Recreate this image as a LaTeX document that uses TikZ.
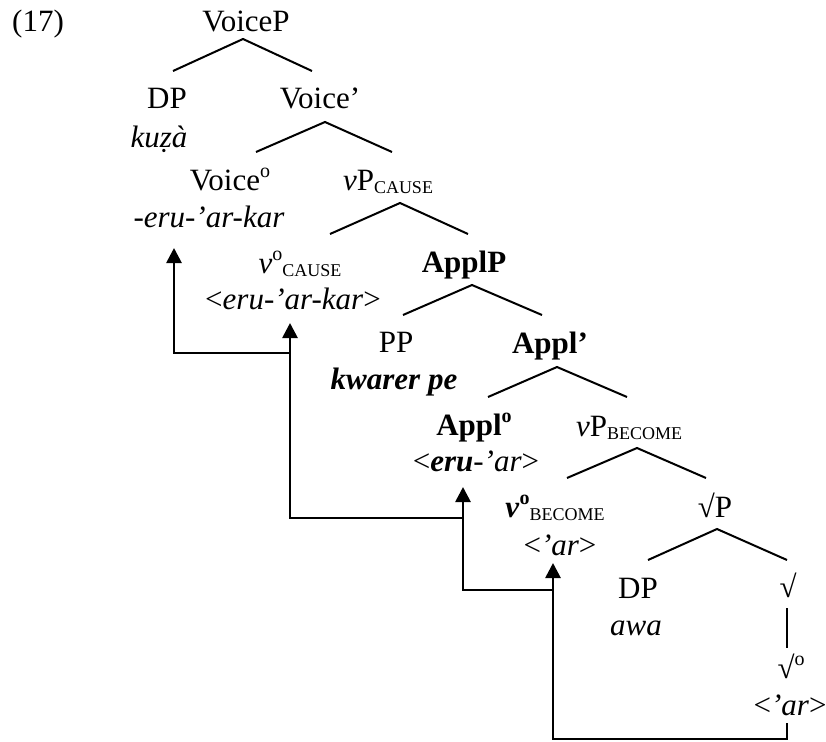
\documentclass[tikz,border=0pt]{standalone}
\usepackage{fontspec}
\setmainfont{Liberation Serif}
\usetikzlibrary{arrows.meta}

\newcommand\supo[1]{\raisebox{13pt}{\fontsize{20}{20}\selectfont #1}}
\newcommand\subcap[1]{\raisebox{-3pt}{\fontsize{18}{18}\selectfont #1}}

\tikzset{
  lbl/.style={inner sep=0pt,anchor=base,font=\fontsize{31}{36}\selectfont},
  branch/.style={line width=2pt},
  trace/.style={line width=2.7pt,-{Triangle[width=15pt,length=15pt]}}
}

\begin{document}
\begin{tikzpicture}[x=1pt,y=-1pt]
\useasboundingbox (0,0) rectangle (826,741);

% labels of the tree
\node[lbl,anchor=base west] (ex) at (12,32) {(17)};
\node[lbl] (VoiceP) at (246,32) {VoiceP};
\node[lbl] (DPa) at (167,108) {DP};
\node[lbl] (kuza) at (159,147) {\textit{kuẓà}};
\node[lbl] (VoiceBar) at (320,108) {Voice’};
\node[lbl] (Voice0) at (230,190) {Voice\supo{o}};
\node[lbl] (voiceW) at (209,227) {\textit{-eru-’ar-kar}};
\node[lbl] (vPcause) at (388,190) {\textit{v}P\subcap{CAUSE}};
\node[lbl] (vcause) at (300,273) {\textit{v}\supo{o}\subcap{CAUSE}};
\node[lbl] (vcauseW) at (293,309) {<\textit{eru-’ar-kar}>};
\node[lbl] (ApplP) at (464,272) {\textbf{ApplP}};
\node[lbl] (PP) at (396,352) {PP};
\node[lbl] (kwarer) at (394,389) {\textbf{\textit{kwarer pe}}};
\node[lbl] (ApplBar) at (550,353) {\textbf{Appl’}};
\node[lbl] (Appl0) at (474,435) {\textbf{Appl\supo{o}}};
\node[lbl] (applW) at (476,471) {<\textbf{\textit{eru}}\textit{-’ar}>};
\node[lbl] (vPbecome) at (629,436) {\textit{v}P\subcap{BECOME}};
\node[lbl] (vbecome) at (555,517) {\textbf{\textit{v}}\supo{\textbf{o}}\subcap{BECOME}};
\node[lbl] (vbecomeW) at (560,555) {<\textit{’ar}>};
\node[lbl] (RootP) at (715,517) {√P};
\node[lbl] (DPb) at (638,598) {DP};
\node[lbl] (awa) at (636,635) {\textit{awa}};
\node[lbl] (Root) at (788,597) {√};
\node[lbl] (Root0) at (791,678) {√\supo{o}};
\node[lbl] (rootW) at (790,715) {<\textit{’ar}>};

% branches
\draw[branch] ([shift={(6,-37)}]DPa.base) -- ([shift={(-3,7)}]VoiceP.base) -- ([shift={(-8,-37)}]VoiceBar.base);
\draw[branch] ([shift={(26,-38)}]Voice0.base) -- ([shift={(5,14)}]VoiceBar.base) -- ([shift={(4,-38)}]vPcause.base);
\draw[branch] ([shift={(30,-39)}]vcause.base) -- ([shift={(12,13)}]vPcause.base) -- ([shift={(4,-38)}]ApplP.base);
\draw[branch] ([shift={(7,-37)}]PP.base) -- ([shift={(8,13)}]ApplP.base) -- ([shift={(-8,-38)}]ApplBar.base);
\draw[branch] ([shift={(14,-38)}]Appl0.base) -- ([shift={(7,14)}]ApplBar.base) -- ([shift={(-2,-39)}]vPbecome.base);
\draw[branch] ([shift={(12,-39)}]vbecome.base) -- ([shift={(8,12)}]vPbecome.base) -- ([shift={(-9,-39)}]RootP.base);
\draw[branch] ([shift={(10,-38)}]DPb.base) -- ([shift={(2,12)}]RootP.base) -- ([shift={(-1,-37)}]Root.base);
\draw[branch] ([shift={(-1,11)}]Root.base) -- ([shift={(-4,-30)}]Root0.base);

% head movement
\coordinate (j2) at (290,353);
\coordinate (j3) at (463,518);
\coordinate (j4) at (553,590);
\draw[trace] ([shift={(-3,8)}]rootW.base) -- ++(0,16) -| ([shift={(-7,8)}]vbecomeW.base);
\draw[trace] (j4) -| ([shift={(-13,16)}]applW.base);
\draw[trace] (j3) -| ([shift={(-3,14)}]vcauseW.base);
\draw[trace] (j2) -| ([shift={(-35,21)}]voiceW.base);
\end{tikzpicture}
\end{document}
